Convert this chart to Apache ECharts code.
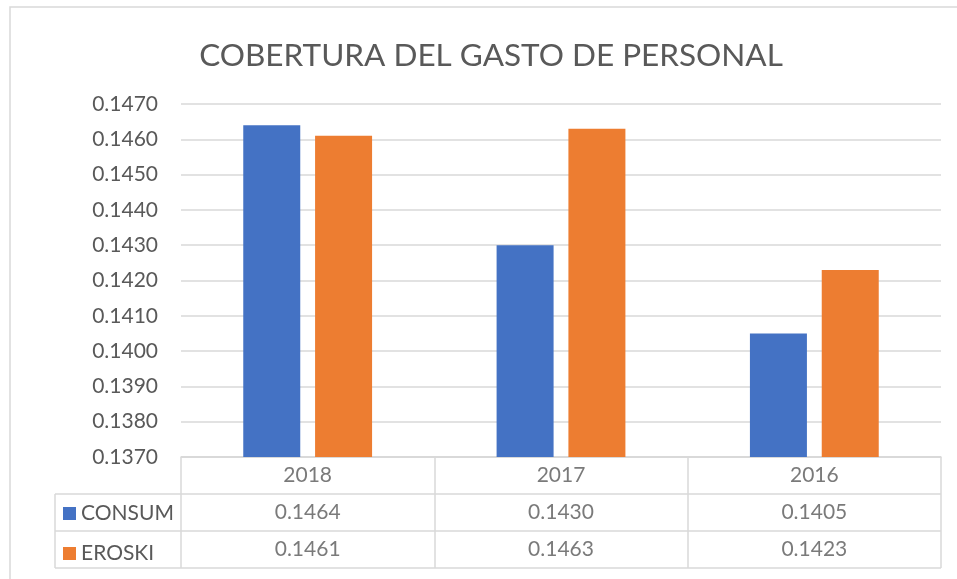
<!DOCTYPE html>
<html>
<head>
<meta charset="utf-8">
<script src="https://cdn.jsdelivr.net/npm/echarts@6/dist/echarts.min.js"></script>
<style>
    html, body { margin: 0; padding: 0; background: #ffffff; }
    #chart { width: 957px; height: 579px; }
</style>
</head>
<body>
<div id="chart"></div>
<script>
    // datos del gráfico
    const years = ['2018', '2017', '2016'];
    const consum = [0.1464, 0.1430, 0.1405];
    const eroski = [0.1461, 0.1463, 0.1423];
    const yTicks = { min: 0.137, max: 0.147, step: 0.001 };

    const FONT = 'Lato';
    const TXT = '#595959';
    const LINE = '#d9d9d9';

    const chart = echarts.init(document.getElementById('chart'));

    // filas de la tabla de datos (celdas como etiquetas sobre la rejilla inferior)
    function tableRow(name, values, row) {
        return {
            name: name,
            type: 'scatter',
            xAxisIndex: 1,
            yAxisIndex: 1,
            symbolSize: 0,
            silent: true,
            data: years.map((y, i) => [y, row, values[i]]),
            label: {
                show: true,
                position: 'inside',
                fontFamily: FONT,
                fontSize: 21,
                color: TXT,
                formatter: p => typeof p.value[2] === 'number' ? p.value[2].toFixed(4) : p.value[2],
            },
        };
    }

    chart.setOption({
        animation: false,
        title: {
            text: 'COBERTURA DEL GASTO DE PERSONAL',
            left: 486,
            textAlign: 'center',
            top: 35,
            textStyle: { fontFamily: FONT, fontSize: 31.5, fontWeight: 'normal', color: TXT },
        },
        legend: {
            data: ['CONSUM', 'EROSKI'],
            orient: 'vertical',
            left: 58,
            top: 498,
            itemWidth: 13,
            itemHeight: 13,
            itemGap: 19,
            icon: 'rect',
            selectedMode: false,
            textStyle: { fontFamily: FONT, fontSize: 21, color: TXT },
        },
        grid: [
            { left: 181, right: 16, top: 104, height: 353 },
            { left: 181, right: 16, top: 457, height: 111 },
        ],
        xAxis: [
            {
                type: 'category',
                data: years,
                axisLine: { show: true, lineStyle: { color: LINE, width: 1.5 } },
                axisTick: { show: false },
                axisLabel: { show: false },
            },
            {
                type: 'category',
                gridIndex: 1,
                data: years,
                axisLine: { show: false },
                axisTick: { show: false },
                axisLabel: { show: false },
                splitLine: { show: true, lineStyle: { color: LINE, width: 1.5 } },
            },
        ],
        yAxis: [
            {
                type: 'value',
                min: yTicks.min,
                max: yTicks.max,
                interval: yTicks.step,
                axisLine: { show: false },
                axisTick: { show: false },
                axisLabel: {
                    margin: 23,
                    fontFamily: FONT,
                    fontSize: 21,
                    color: TXT,
                    formatter: v => v.toFixed(4),
                },
                splitLine: { lineStyle: { color: LINE, width: 1.5 } },
            },
            {
                type: 'value',
                gridIndex: 1,
                min: 0,
                max: 3,
                interval: 1,
                inverse: true,
                axisLine: { show: false },
                axisTick: { show: false },
                axisLabel: { show: false },
                splitLine: { show: true, lineStyle: { color: LINE, width: 1.5 } },
            },
        ],
        series: [
            {
                name: 'CONSUM',
                type: 'bar',
                data: consum,
                barWidth: 57,
                barGap: '26%',
                itemStyle: { color: '#4472C4' },
                silent: true,
            },
            {
                name: 'EROSKI',
                type: 'bar',
                data: eroski,
                barWidth: 57,
                barGap: '26%',
                itemStyle: { color: '#ED7D31' },
                silent: true,
            },
            tableRow('t-años', years, 0.5),
            tableRow('t-consum', consum, 1.5),
            tableRow('t-eroski', eroski, 2.5),
        ],
    });

    // bordes de la columna de leyenda de la tabla y marco del gráfico
    const x0 = 55;
    const x1 = chart.convertToPixel({ xAxisIndex: 1 }, 0) - (chart.convertToPixel({ xAxisIndex: 1 }, 1) - chart.convertToPixel({ xAxisIndex: 1 }, 0)) / 2;
    const rows = [1, 2, 3].map(r => chart.convertToPixel({ yAxisIndex: 1 }, r));
    const ls = { stroke: LINE, lineWidth: 1.5 };
    chart.setOption({
        graphic: [
            { type: 'rect', shape: { x: 10, y: 7, width: 960, height: 600 }, style: { fill: 'none', stroke: LINE, lineWidth: 1.5 }, silent: true },
            { type: 'line', shape: { x1: x0, y1: rows[0], x2: x1, y2: rows[0] }, style: ls, silent: true },
            { type: 'line', shape: { x1: x0, y1: rows[1], x2: x1, y2: rows[1] }, style: ls, silent: true },
            { type: 'line', shape: { x1: x0, y1: rows[2], x2: x1, y2: rows[2] }, style: ls, silent: true },
            { type: 'line', shape: { x1: x0, y1: rows[0], x2: x0, y2: rows[2] }, style: ls, silent: true },
        ],
    });
</script>
</body>
</html>
